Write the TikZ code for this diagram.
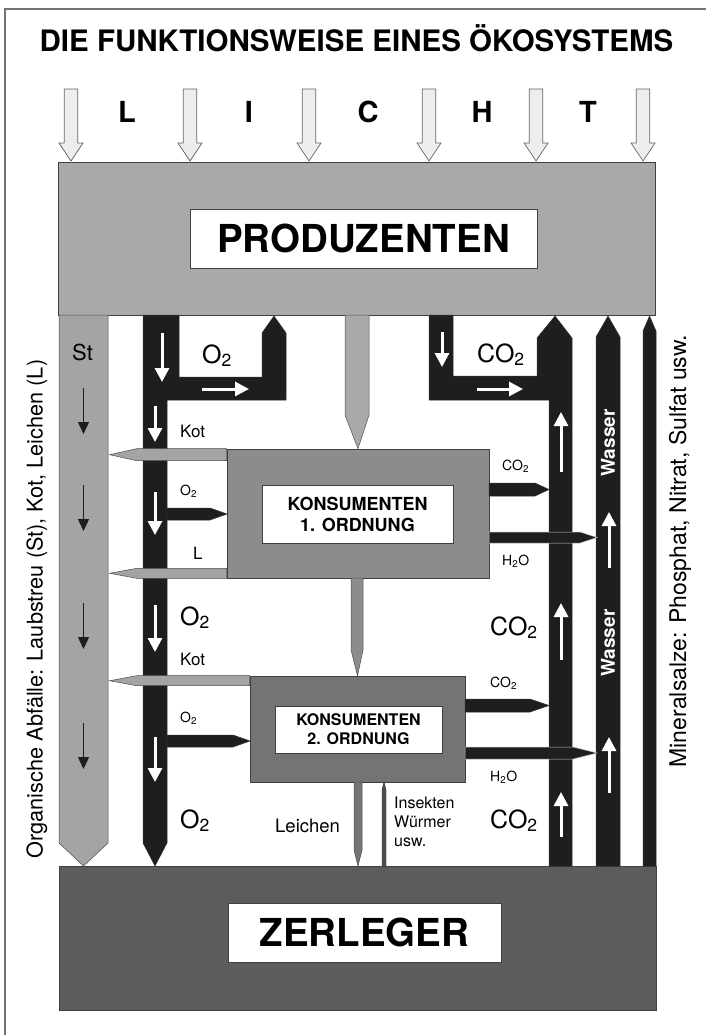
\documentclass[tikz,border=0pt]{standalone}
\usepackage{fontspec}
\setmainfont{TeX Gyre Heros}
\usetikzlibrary{arrows.meta}

\definecolor{prodgray}{HTML}{A9A9A9}
\definecolor{stripgray}{HTML}{A4A4A4}
\definecolor{konsone}{HTML}{8C8C8C}
\definecolor{konstwo}{HTML}{747474}
\definecolor{zerlgray}{HTML}{5C5C5C}
\definecolor{flowblack}{HTML}{1E1E1E}
\definecolor{lightfill}{HTML}{EDEDED}

\newcommand{\fs}[2]{\fontsize{#1}{#2}\selectfont}

\tikzset{
  levelbox/.style={draw=black!75, line width=0.6pt, rectangle, inner sep=0pt},
  namebox/.style={draw=black!75, line width=0.6pt, rectangle, fill=white, inner sep=0pt, font=\bfseries\fs{38.5}{44}},
  flowband/.style={draw=black!80, line width=0.5pt, fill=flowblack},
  wasteband/.style={draw=black!70, line width=0.5pt, fill=stripgray},
  whitearrow/.style={white, line width=3pt, -{Triangle[width=14pt,length=14pt]}},
  striparrow/.style={flowblack, line width=1.3pt, -{Triangle[width=11pt,length=12pt]}},
  lightarrow/.style={draw=black!60, line width=0.7pt, fill=lightfill},
  biglabel/.style={font=\fs{25}{30}, anchor=base west, inner sep=0pt},
  midlabel/.style={font=\fs{17}{20}, anchor=base west, inner sep=0pt},
  smalllabel/.style={font=\fs{14}{17}, anchor=base west, inner sep=0pt},
  sidelabel/.style={rotate=90, inner sep=0pt}
}

\begin{document}
\begin{tikzpicture}[x=1pt,y=-1pt]
  \useasboundingbox (0,0) rectangle (706,1035);
  \fill[white] (0,0) rectangle (706,1035);
  \begin{scope}
    \clip (0,0) rectangle (706,1035);
    \draw[black!55, line width=1.2pt] (5,9) rectangle (720,1050);
  \end{scope}

  % title and light
  \node[font=\bfseries\fs{29.5}{34}, anchor=base, inner sep=0pt] (title) at (356.5,52) {DIE FUNKTIONSWEISE EINES ÖKOSYSTEMS};
  \foreach \x in {71,190,309,429,536,643}
    \filldraw[lightarrow] (\x-6.75,89) -- (\x+6.75,89) -- (\x+6.75,143) -- (\x+12,143) -- (\x,161) -- (\x-12,143) -- (\x-6.75,143) -- cycle;
  \foreach \x/\c in {127/L,249/I,368/C,482/H,588/T}
    \node[font=\bfseries\fs{29}{34}, anchor=base, inner sep=0pt] (licht-\c) at (\x,123) {\c};

  % the three levels
  \node[levelbox, fill=prodgray, minimum width=596.5pt, minimum height=153pt] (prod) at (356.75,238.5) {};
  \node[namebox, minimum width=347pt, minimum height=59pt] (prodname) at (363.5,238.5) {PRODUZENTEN};
  \node[levelbox, fill=zerlgray, minimum width=597pt, minimum height=144pt] (zerl) at (357.5,938) {};
  \node[namebox, minimum width=273pt, minimum height=59pt] (zerlname) at (364.5,932.5) {ZERLEGER};
  \node[levelbox, fill=konsone, minimum width=262pt, minimum height=129pt] (k1) at (358,513.5) {};
  \node[namebox, font=\bfseries\fs{18}{21}, align=center, minimum width=191pt, minimum height=58pt] (k1name) at (357.5,514) {KONSUMENTEN\\1. ORDNUNG};
  \node[levelbox, fill=konstwo, minimum width=215pt, minimum height=106pt] (k2) at (357.5,729) {};
  \node[namebox, font=\bfseries\fs{16}{19}, align=center, minimum width=167pt, minimum height=47pt] (k2name) at (358.5,729.5) {KONSUMENTEN\\2. ORDNUNG};

  % organic waste strip
  \filldraw[wasteband] (59,315) -- (108,315) -- (108,843) -- (83.5,866) -- (59,843) -- cycle;
  \foreach \y in {388,485,603,723}
    \draw[striparrow] (83.5,\y) -- (83.5,\y+46);

  % oxygen and carbon dioxide bands
  \filldraw[flowband] (143,315) -- (179,315) -- (179,377) -- (262,377) -- (262,333) -- (274,316) -- (286,333) -- (286,400) -- (167,400) -- (167,843) -- (155,866) -- (143,843) -- cycle;
  \filldraw[flowband] (429,315) -- (453,315) -- (453,376) -- (537,376) -- (537,338) -- (555,316) -- (572,338) -- (572,866) -- (549,866) -- (549,400) -- (429,400) -- cycle;
  \filldraw[flowband] (596,866) -- (596,337) -- (608,316) -- (620,337) -- (620,866) -- cycle;
  \filldraw[flowband] (643,866) -- (643,331) -- (649.5,316) -- (656,331) -- (656,866) -- cycle;

  % food chain
  \filldraw[wasteband, fill=prodgray] (345,315) -- (369,315) -- (369,415) -- (k1.north) -- (345,415) -- cycle;
  \filldraw[wasteband, fill=konsone] (351,578) -- (363,578) -- (363,650) -- (k2.north) -- (351,650) -- cycle;
  \filldraw[wasteband, fill=konstwo] (354,782) -- (362,782) -- (362,850) -- (358,866) -- (354,850) -- cycle;
  \filldraw[draw=black!80, line width=0.4pt, fill=black!70] (382,866) -- (382,790) -- (384,782) -- (386,790) -- (386,866) -- cycle;

  % Kot and Leichen to the strip
  \filldraw[wasteband] (k1.north west) -- ++(-90,0) -- ++(-27,6) -- ++(27,6) -- ++(90,0) -- cycle;
  \filldraw[wasteband] (k1.south west) -- ++(-90,0) -- ++(-27,-5) -- ++(27,-5) -- ++(90,0) -- cycle;
  \filldraw[wasteband] (k2.north west) -- ++(-113,0) -- ++(-27,5) -- ++(27,5) -- ++(113,0) -- cycle;

  % O2 in, CO2 and H2O out
  \filldraw[flowband] (167,508) -- (210,508) -- (227,514) -- (210,520) -- (167,520) -- cycle;
  \filldraw[flowband] (167,735) -- (233,735) -- (250,741) -- (233,747) -- (167,747) -- cycle;
  \filldraw[flowband] (489,483) -- (535,483) -- (549,489.5) -- (535,496) -- (489,496) -- cycle;
  \filldraw[flowband] (465,699) -- (530,699) -- (549,705.5) -- (530,712) -- (465,712) -- cycle;
  \filldraw[flowband, draw=black!25] (489,532) -- (580,532) -- (597,537.5) -- (580,543) -- (489,543) -- cycle;
  \filldraw[flowband, draw=black!25] (465,747) -- (573,747) -- (597,753) -- (573,759) -- (465,759) -- cycle;

  % direction marks
  \draw[whitearrow] (162,333) -- (162,382);
  \draw[whitearrow] (202,389) -- (249,389);
  \foreach \a/\b in {406/442,492/535,605/652,737/782}
    \draw[whitearrow] (155,\a) -- (155,\b);
  \draw[whitearrow] (442,332) -- (442,367);
  \draw[whitearrow] (477,389) -- (523,389);
  \foreach \a/\b in {472/412,660/603,837/792}
    \draw[whitearrow] (561,\a) -- (561,\b);
  \foreach \a/\b in {568/512,793/737}
    \draw[whitearrow] (609,\a) -- (609,\b);

  % labels
  \node[font=\fs{22}{26}, anchor=base west, inner sep=0pt] (st) at (72,360) {St};
  \node[biglabel] (o2-a) at (202,363) {O\textsubscript{2}};
  \node[biglabel] (o2-b) at (180,625) {O\textsubscript{2}};
  \node[biglabel] (o2-c) at (180,828) {O\textsubscript{2}};
  \node[biglabel] (co2-a) at (477,362) {CO\textsubscript{2}};
  \node[biglabel] (co2-b) at (490,635) {CO\textsubscript{2}};
  \node[biglabel] (co2-c) at (490,828) {CO\textsubscript{2}};
  \node[midlabel] (kot-a) at (180,437) {Kot};
  \node[midlabel] (kot-b) at (180,665) {Kot};
  \node[midlabel] (leiche) at (193,559) {L};
  \node[smalllabel] (o2-k1) at (180,495) {O\textsubscript{2}};
  \node[smalllabel] (o2-k2) at (180,722) {O\textsubscript{2}};
  \node[smalllabel] (co2-k1) at (502,470) {CO\textsubscript{2}};
  \node[smalllabel] (h2o-k1) at (502,565) {H\textsubscript{2}O};
  \node[smalllabel] (co2-k2) at (490,687) {CO\textsubscript{2}};
  \node[smalllabel] (h2o-k2) at (490,781) {H\textsubscript{2}O};
  \node[font=\fs{18.5}{22}, anchor=base west, inner sep=0pt] (leichen) at (275,832) {Leichen};
  \node[font=\fs{16}{19}, align=left, anchor=north west, inner sep=0pt] (insekten) at (394,797) {Insekten\\Würmer\\usw.};
  \node[font=\bfseries\fs{19}{22}, text=white, rotate=90, inner sep=0pt] (wasser-a) at (608,443) {Wasser};
  \node[font=\bfseries\fs{19}{22}, text=white, rotate=90, inner sep=0pt] (wasser-b) at (608,643) {Wasser};
  \node[sidelabel, font=\fs{21.7}{26}] (abfall) at (37,609) {Organische Abfälle: Laubstreu (St), Kot, Leichen (L)};
  \node[sidelabel, font=\fs{23}{27}] (mineral) at (680,551) {Mineralsalze: Phosphat, Nitrat, Sulfat usw.};
\end{tikzpicture}
\end{document}
